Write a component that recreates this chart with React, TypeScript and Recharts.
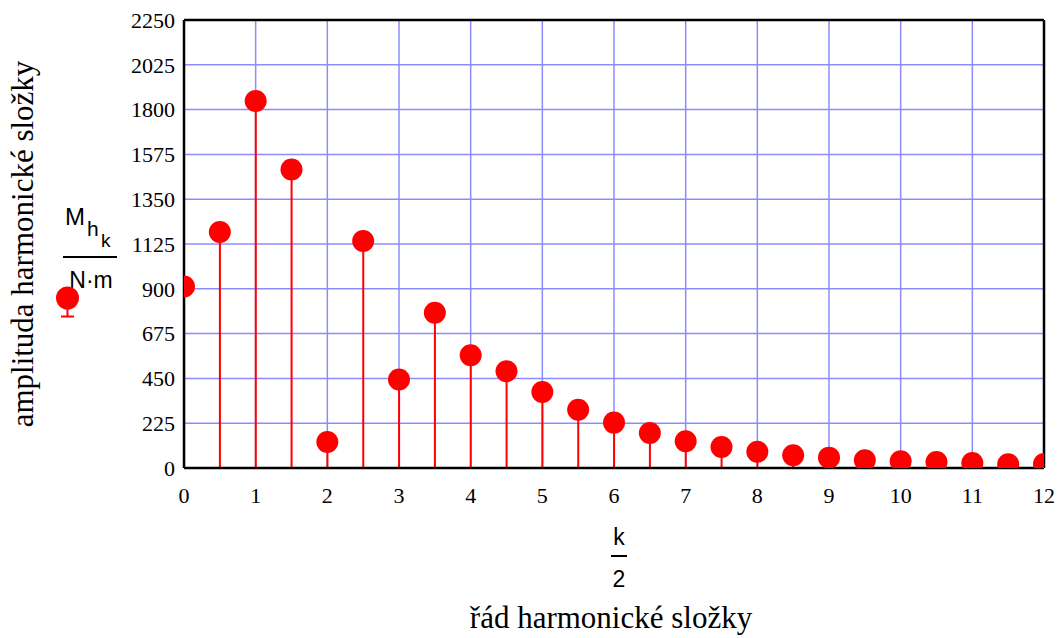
import React from "react";
import {
  Bar,
  CartesianGrid,
  ComposedChart,
  ReferenceLine,
  Scatter,
  XAxis,
  YAxis,
} from "recharts";

/* ── Data ───────────────────────────────────────────────────── */
const harmonicOrder = [
  0, 0.5, 1, 1.5, 2, 2.5, 3, 3.5, 4, 4.5, 5, 5.5, 6, 6.5, 7, 7.5, 8, 8.5, 9,
  9.5, 10, 10.5, 11, 11.5, 12,
];
const amplitudes = [
  912, 1185, 1843, 1499, 131, 1140, 444, 780, 566, 486, 382, 293, 228, 176,
  134, 105, 82, 64, 52, 39, 34, 30, 25, 19, 20,
];
const xTicks = [0, 1, 2, 3, 4, 5, 6, 7, 8, 9, 10, 11, 12];
const yTicks = [0, 225, 450, 675, 900, 1125, 1350, 1575, 1800, 2025, 2250];

const data = harmonicOrder.map((k, i) => ({ k, v: amplitudes[i] }));

/* ── Styles ─────────────────────────────────────────────────── */
const RED = "#ff0000";
const GRID = "#8c8cff";
const serif = "'Liberation Serif', 'Times New Roman', serif";
const sans = "'Liberation Sans', Arial, sans-serif";
const tickStyle = { fontFamily: serif, fontSize: 22, fill: "#000" };

const css = `
body { margin: 0; }
.recharts-cartesian-axis-tick-value,
.recharts-cartesian-axis-tick-value tspan {
  font-family: 'Liberation Serif', 'Times New Roman', serif;
  font-size: 22px;
  fill: #000;
}
`;

function Dot(props: { cx?: number; cy?: number }) {
  if (props.cx == null || props.cy == null) return null;
  return <circle cx={props.cx} cy={props.cy} r={11} fill={RED} />;
}

export default function App() {
  return (
    <div style={{ position: "relative", width: 1064, height: 638, background: "#fff" }}>
      <style>{css}</style>
      <ComposedChart
        width={1064}
        height={638}
        data={data}
        margin={{ top: 20, right: 20, left: 124, bottom: 140 }}
        style={{ fontFamily: serif }}
      >
        <CartesianGrid stroke={GRID} strokeWidth={1.5} />
        <XAxis
          dataKey="k"
          type="number"
          domain={[0, 12]}
          ticks={xTicks}
          allowDataOverflow
          height={30}
          tick={tickStyle}
          tickLine={false}
          tickMargin={13}
          axisLine={{ stroke: "#000", strokeWidth: 2.5 }}
        />
        <YAxis
          type="number"
          domain={[0, 2250]}
          ticks={yTicks}
          allowDataOverflow
          width={60}
          tick={tickStyle}
          tickLine={false}
          tickMargin={3}
          axisLine={{ stroke: "#000", strokeWidth: 2.5 }}
        />
        <ReferenceLine y={2250} stroke="#000" strokeWidth={2.5} />
        <ReferenceLine x={12} stroke="#000" strokeWidth={2.5} />
        <Bar dataKey="v" fill={RED} barSize={2} isAnimationActive={false} />
        <Scatter dataKey="v" shape={<Dot />} isAnimationActive={false} />
      </ComposedChart>

      {/* axis titles and Mathcad-style legend */}
      <svg
        width={1064}
        height={638}
        style={{ position: "absolute", left: 0, top: 0, pointerEvents: "none" }}
      >
        <text
          x={33}
          y={244}
          transform="rotate(-90 33 244)"
          textAnchor="middle"
          fontFamily={serif}
          fontSize={31}
          fill="#000"
        >
          amplituda harmonické složky
        </text>
        <text x={611} y={628} textAnchor="middle" fontFamily={serif} fontSize={31} fill="#000">
          řád harmonické složky
        </text>

        {/* M_h_k / N·m */}
        <g fontFamily={sans} fill="#000">
          <text x={65} y={225} fontSize={24}>M</text>
          <text x={87} y={236} fontSize={21}>h</text>
          <text x={101} y={247} fontSize={19}>k</text>
          <line x1={63} x2={117} y1={257} y2={257} stroke="#000" strokeWidth={2} />
          <text x={91} y={288} fontSize={23} textAnchor="middle">N·m</text>
        </g>
        <circle cx={67.5} cy={298} r={11.5} fill={RED} />
        <line x1={67.5} x2={67.5} y1={298} y2={317} stroke={RED} strokeWidth={2} />
        <line x1={61} x2={74} y1={316.5} y2={316.5} stroke={RED} strokeWidth={2} />

        {/* k / 2 */}
        <g fontFamily={sans} fill="#000">
          <text x={619} y={545} fontSize={23} textAnchor="middle">k</text>
          <line x1={611} x2={627} y1={556} y2={556} stroke="#000" strokeWidth={2} />
          <text x={619} y={587} fontSize={23} textAnchor="middle">2</text>
        </g>
      </svg>
    </div>
  );
}
